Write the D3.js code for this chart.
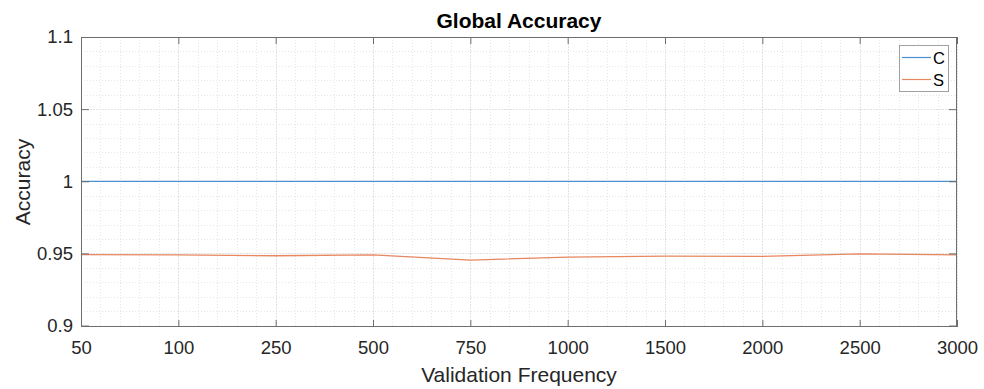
<!DOCTYPE html>
<html>
<head>
<meta charset="utf-8">
<script src="https://cdn.jsdelivr.net/npm/d3@7"></script>
<style>
  html, body { margin: 0; padding: 0; background: #fff; }
  svg { display: block; font-family: "Liberation Sans", Arial, Helvetica, sans-serif; }
</style>
</head>
<body>
<svg id="chart" width="984" height="389"></svg>
<script>
// Validation frequencies (evenly spaced categories on the x axis)
const frequencies = ["50", "100", "250", "500", "750", "1000", "1500", "2000", "2500", "3000"];
// Global accuracy per series
const accuracyC = [1, 1, 1, 1, 1, 1, 1, 1, 1, 1];
const accuracyS = [0.9492, 0.9490, 0.9484, 0.9490, 0.9454, 0.9474, 0.9481, 0.9479, 0.9497, 0.9490];
const seriesNames = ["C", "S"];
const seriesColors = ["#4a90cf", "#e8865f"];
const yTicks = [0.9, 0.95, 1, 1.05, 1.1];

const svg = d3.select("#chart");
const plot = { left: 81, right: 957, top: 37, bottom: 327 };

const x = d3.scalePoint().domain(frequencies).range([plot.left, plot.right]).padding(0);
const xi = d3.scaleLinear().domain([0, frequencies.length - 1]).range([plot.left, plot.right]);
const y = d3.scaleLinear().domain([0.899, 1.1]).range([plot.bottom, plot.top]);

const grid = svg.append("g");
// minor grid (dotted)
const minorX = d3.range(0, frequencies.length - 1 + 1e-9, 0.2).filter(v => Math.abs(v - Math.round(v)) > 1e-6);
const minorY = d3.range(0.9, 1.1 + 1e-9, 0.01).filter(v => yTicks.every(t => Math.abs(t - v) > 1e-6));
grid.selectAll(".mx").data(minorX).join("line")
  .attr("x1", d => Math.round(xi(d)) + 0.5).attr("x2", d => Math.round(xi(d)) + 0.5)
  .attr("y1", plot.top).attr("y2", plot.bottom)
  .attr("stroke", "#e6e6e6").attr("stroke-width", 1).attr("stroke-dasharray", "1,2");
grid.selectAll(".my").data(minorY).join("line")
  .attr("x1", plot.left).attr("x2", plot.right)
  .attr("y1", d => Math.round(y(d)) + 0.5).attr("y2", d => Math.round(y(d)) + 0.5)
  .attr("stroke", "#e6e6e6").attr("stroke-width", 1).attr("stroke-dasharray", "1,2");
// major grid
grid.selectAll(".gx").data(frequencies).join("line")
  .attr("x1", d => Math.round(x(d)) + 0.5).attr("x2", d => Math.round(x(d)) + 0.5)
  .attr("y1", plot.top).attr("y2", plot.bottom)
  .attr("stroke", "#e2e2e2").attr("stroke-width", 1).attr("stroke-dasharray", "2,1");
grid.selectAll(".gy").data(yTicks).join("line")
  .attr("x1", plot.left).attr("x2", plot.right)
  .attr("y1", d => Math.round(y(d)) + 0.5).attr("y2", d => Math.round(y(d)) + 0.5)
  .attr("stroke", "#e2e2e2").attr("stroke-width", 1).attr("stroke-dasharray", "2,1");

// series lines
const line = d3.line().x((d, i) => x(frequencies[i])).y(d => y(d));
[accuracyC, accuracyS].forEach((vals, k) => {
  svg.append("path").datum(vals)
    .attr("d", line).attr("fill", "none")
    .attr("stroke", seriesColors[k]).attr("stroke-width", 1.3);
});

// axes
const axisColor = "#6e6e6e", textColor = "#262626";
function styleAxis(g) {
  g.select(".domain").remove();
  g.selectAll(".tick line").attr("stroke", axisColor);
  g.selectAll("text").attr("fill", textColor).attr("font-size", 18.5)
    .attr("font-family", "'Liberation Sans', Arial, sans-serif");
}
svg.append("g").attr("transform", `translate(0,${plot.bottom})`)
  .call(d3.axisBottom(x).tickSize(-7).tickPadding(14)).call(styleAxis);
svg.append("g").attr("transform", `translate(0,${plot.top})`)
  .call(d3.axisTop(x).tickSize(-7).tickFormat("")).call(styleAxis);
svg.append("g").attr("transform", `translate(${plot.left},0)`)
  .call(d3.axisLeft(y).tickValues(yTicks).tickFormat(d3.format("~g")).tickSize(-8).tickPadding(8)).call(styleAxis);
svg.append("g").attr("transform", `translate(${plot.right},0)`)
  .call(d3.axisRight(y).tickValues(yTicks).tickFormat("").tickSize(-8)).call(styleAxis);

// box
svg.append("rect").attr("x", plot.left + 0.5).attr("y", plot.top + 0.5)
  .attr("width", plot.right - plot.left - 1).attr("height", plot.bottom - plot.top - 1)
  .attr("fill", "none").attr("stroke", axisColor).attr("stroke-width", 1);

// title and axis labels
svg.append("text").attr("x", (plot.left + plot.right) / 2).attr("y", 27.5)
  .attr("text-anchor", "middle").attr("font-size", 21).attr("font-weight", "bold")
  .attr("fill", "#000").text("Global Accuracy");
svg.append("text").attr("x", (plot.left + plot.right) / 2).attr("y", 382)
  .attr("text-anchor", "middle").attr("font-size", 21)
  .attr("fill", textColor).text("Validation Frequency");
svg.append("text").attr("transform", `translate(30,${(plot.top + plot.bottom) / 2}) rotate(-90)`)
  .attr("text-anchor", "middle").attr("font-size", 21)
  .attr("fill", textColor).text("Accuracy");

// legend
const lg = svg.append("g");
lg.append("rect").attr("x", 899.5).attr("y", 45.5).attr("width", 49).attr("height", 46)
  .attr("fill", "#fff").attr("stroke", "#a0a0a0").attr("stroke-width", 1);
seriesNames.forEach((name, k) => {
  const cy = 57.5 + k * 22;
  lg.append("line").attr("x1", 902).attr("x2", 931).attr("y1", cy).attr("y2", cy)
    .attr("stroke", seriesColors[k]).attr("stroke-width", 1.2);
  lg.append("text").attr("x", 933).attr("y", cy + 6)
    .attr("font-size", 16.5).attr("fill", "#000").text(name);
});
</script>
</body>
</html>
